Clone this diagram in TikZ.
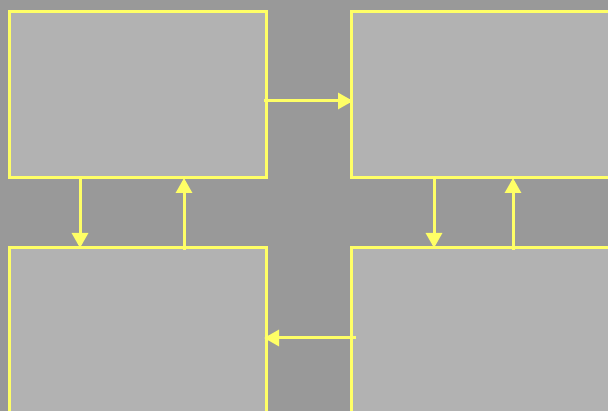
\documentclass[tikz,border=0pt]{standalone}
\usetikzlibrary{arrows.meta, positioning}
\definecolor{pnlbg}{HTML}{999999}
\definecolor{pnlfill}{HTML}{B2B2B2}
\definecolor{pnlyellow}{HTML}{FFFF66}
\tikzset{
  panel/.style={rectangle, draw=pnlyellow, fill=pnlfill, line width=3pt,
    minimum width=257pt, minimum height=166pt, inner sep=0pt, outer sep=0pt},
  widepanel/.style={panel, minimum width=270pt},
  arr/.style={-{Triangle[length=15pt, width=16pt]}, line width=3pt, pnlyellow},
}
\begin{document}
\begin{tikzpicture}[x=1pt, y=-1pt]
    % canvas
    \clip (0,0) rectangle (608,411);
    \fill[pnlbg] (0,0) rectangle (608,411);
    % panels
    \node[panel, anchor=north west] (tl) at (9,12) {};
    \node[widepanel, right=85pt of tl] (tr) {};
    \node[panel, below=70pt of tl] (bl) {};
    \node[widepanel, below=70pt of tr] (br) {};

    % horizontal links
    \draw[arr] ([xshift=-2pt, yshift=-6pt]tl.east) -- ([xshift=2pt, yshift=-6pt]tl.east -| tr.west);
    \draw[arr] ([xshift=5pt, yshift=-90pt]br.north west) -- ([xshift=-2pt, yshift=-90pt]bl.north east);

    % vertical links
    \draw[arr] ([xshift=71pt]tl.south west) -- ([xshift=71pt]bl.north west);
    \draw[arr] ([xshift=175pt, yshift=-2pt]bl.north west) -- ([xshift=175pt]tl.south west);
    \draw[arr] ([xshift=83pt]tr.south west) -- ([xshift=83pt]br.north west);
    \draw[arr] ([xshift=162pt, yshift=-2pt]br.north west) -- ([xshift=162pt]tr.south west);
\end{tikzpicture}
\end{document}
